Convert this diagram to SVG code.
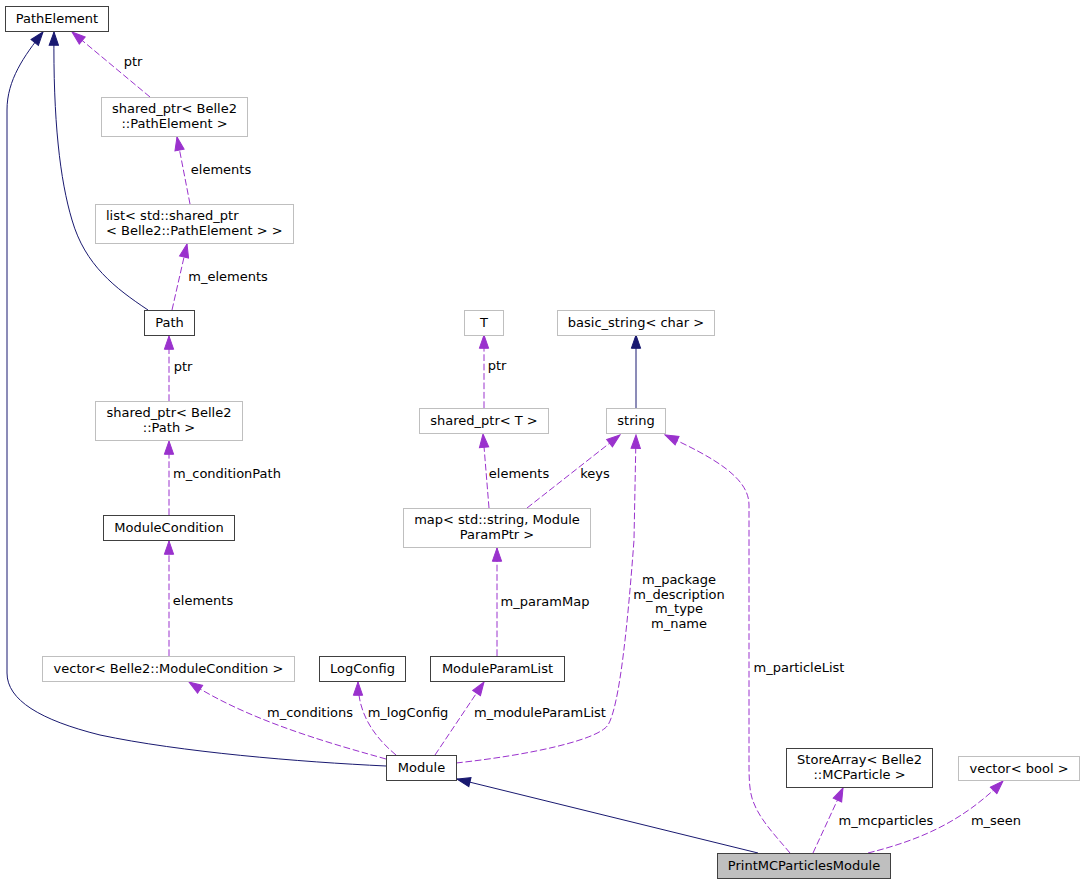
<svg xmlns="http://www.w3.org/2000/svg" width="1085" height="885" viewBox="0 0 1085 885">
<style>
text{font-family:"DejaVu Sans","Liberation Sans",sans-serif;font-size:13px;fill:#000}
.n text,.lbl{text-anchor:middle}
.box{fill:#fff;stroke:#404040;stroke-width:1}
.gbox{fill:#fff;stroke:#bfbfbf;stroke-width:1}
.cur{fill:#bfbfbf;stroke:#404040;stroke-width:1}
.inh{fill:none;stroke:#191970;stroke-width:1;marker-end:url(#ab)}
.use{fill:none;stroke:#9a32cd;stroke-width:1;stroke-dasharray:6.7,2.7;marker-end:url(#ap)}
</style>
<defs>
<marker id="ab" markerUnits="userSpaceOnUse" markerWidth="15.3" markerHeight="11.3" viewBox="-1 -1 15.3 11.3" refX="13.3" refY="4.65" orient="auto"><path d="M0,0 L13.3,4.65 L0,9.3 Z" fill="#191970" stroke="#191970"/></marker>
<marker id="ap" markerUnits="userSpaceOnUse" markerWidth="15.3" markerHeight="11.3" viewBox="-1 -1 15.3 11.3" refX="13.3" refY="4.65" orient="auto"><path d="M0,0 L13.3,4.65 L0,9.3 Z" fill="#9a32cd" stroke="#9a32cd"/></marker>
</defs>
<rect width="1085" height="885" fill="#fff"/>
<g id="edges">
<path class="inh" d="M148,310 C115,288 85,265 72,220 C60,180 53,120 54,32"/>
<path class="inh" d="M386,766 C300,762 180,752 100,735 C40,720 7,700 7,673 L7,110 C7,80 24,56 43,32"/>
<path class="use" d="M150,97 L72,32"/>
<path class="use" d="M190,204 L177,137"/>
<path class="use" d="M172,310 L187,244"/>
<path class="use" d="M169,401 L169,336"/>
<path class="use" d="M169,515 L169,441"/>
<path class="use" d="M169,656 L169,541"/>
<path class="use" d="M386,759 C340,746 250,722 189,682"/>
<path class="use" d="M396,755 C372,735 358,712 358,682"/>
<path class="use" d="M435,755 L484,682"/>
<path class="use" d="M456,763 C530,755 598,740 608,725 C620,705 628,620 634,540 L636,435"/>
<path class="use" d="M527,508 L620,435"/>
<path class="use" d="M489,508 L483,434"/>
<path class="use" d="M484,408 L484,335"/>
<path class="inh" d="M636,408 L636,335"/>
<path class="use" d="M497,656 L497,548"/>
<path class="use" d="M790,853 C775,835 758,818 752,798 C749,788 749,775 749,760 L749,505 C749,478 715,458 665,435"/>
<path class="use" d="M813,853 L843,788"/>
<path class="use" d="M868,853 C920,840 962,822 1003,781"/>
<path class="inh" d="M758,853 L457,779"/>
<text class="lbl" x="133" y="66">ptr</text>
<text class="lbl" x="221" y="174">elements</text>
<text class="lbl" x="228" y="281">m_elements</text>
<text class="lbl" x="183" y="371">ptr</text>
<text class="lbl" x="227" y="478">m_conditionPath</text>
<text class="lbl" x="203" y="605">elements</text>
<text class="lbl" x="310" y="717">m_conditions</text>
<text class="lbl" x="408" y="717">m_logConfig</text>
<text class="lbl" x="540" y="717">m_moduleParamList</text>
<text class="lbl" x="679" y="584">m_package</text>
<text class="lbl" x="679" y="598.5">m_description</text>
<text class="lbl" x="679" y="613">m_type</text>
<text class="lbl" x="679" y="627.5">m_name</text>
<text class="lbl" x="595" y="478">keys</text>
<text class="lbl" x="519" y="478">elements</text>
<text class="lbl" x="497" y="370">ptr</text>
<text class="lbl" x="545" y="606">m_paramMap</text>
<text class="lbl" x="799" y="672">m_particleList</text>
<text class="lbl" x="886" y="825">m_mcparticles</text>
<text class="lbl" x="996" y="825">m_seen</text>
</g>
<g id="PathElement" class="n"><rect class="box" x="5.5" y="6.5" width="103" height="25"/><text x="57" y="22.5">PathElement</text></g>
<g id="SharedPtrPathElement" class="n"><rect class="gbox" x="101.5" y="97.5" width="146" height="39"/><text x="174.5" y="113">shared_ptr&lt; Belle2</text><text x="174.5" y="128">::PathElement &gt;</text></g>
<g id="ListSharedPtr" class="n"><rect class="gbox" x="95.5" y="204.5" width="198" height="39"/><text x="106" y="220" style="text-anchor:start">list&lt; std::shared_ptr</text><text x="106" y="235" style="text-anchor:start">&lt; Belle2::PathElement &gt; &gt;</text></g>
<g id="Path" class="n"><rect class="box" x="144.5" y="310.5" width="50" height="25"/><text x="169.5" y="327">Path</text></g>
<g id="SharedPtrPath" class="n"><rect class="gbox" x="95.5" y="401.5" width="147" height="39"/><text x="169" y="417">shared_ptr&lt; Belle2</text><text x="169" y="432">::Path &gt;</text></g>
<g id="ModuleCondition" class="n"><rect class="box" x="103.5" y="515.5" width="131" height="25"/><text x="169" y="532">ModuleCondition</text></g>
<g id="VectorModuleCondition" class="n"><rect class="gbox" x="42.5" y="656.5" width="252" height="25"/><text x="168.5" y="673">vector&lt; Belle2::ModuleCondition &gt;</text></g>
<g id="LogConfig" class="n"><rect class="box" x="319.5" y="656.5" width="86" height="25"/><text x="362.5" y="673">LogConfig</text></g>
<g id="ModuleParamList" class="n"><rect class="box" x="430.5" y="656.5" width="134" height="25"/><text x="497.5" y="673">ModuleParamList</text></g>
<g id="Module" class="n"><rect class="box" x="386.5" y="755.5" width="70" height="25"/><text x="421.5" y="772">Module</text></g>
<g id="T" class="n"><rect class="gbox" x="464.5" y="310.5" width="39" height="25"/><text x="484" y="327">T</text></g>
<g id="BasicString" class="n"><rect class="gbox" x="557.5" y="310.5" width="157" height="25"/><text x="636" y="327">basic_string&lt; char &gt;</text></g>
<g id="SharedPtrT" class="n"><rect class="gbox" x="419.5" y="408.5" width="129" height="25"/><text x="484" y="425">shared_ptr&lt; T &gt;</text></g>
<g id="String" class="n"><rect class="gbox" x="606.5" y="408.5" width="59" height="25"/><text x="636" y="425">string</text></g>
<g id="Map" class="n"><rect class="gbox" x="403.5" y="508.5" width="187" height="39"/><text x="497" y="524">map&lt; std::string, Module</text><text x="497" y="539">ParamPtr &gt;</text></g>
<g id="StoreArray" class="n"><rect class="box" x="786.5" y="748.5" width="146" height="39"/><text x="859.5" y="764">StoreArray&lt; Belle2</text><text x="859.5" y="779">::MCParticle &gt;</text></g>
<g id="VectorBool" class="n"><rect class="gbox" x="958.5" y="756.5" width="121" height="24"/><text x="1019" y="773">vector&lt; bool &gt;</text></g>
<g id="PrintMCParticlesModule" class="n"><rect class="cur" x="717.5" y="853.5" width="173" height="25"/><text x="804" y="870">PrintMCParticlesModule</text></g>
</svg>
